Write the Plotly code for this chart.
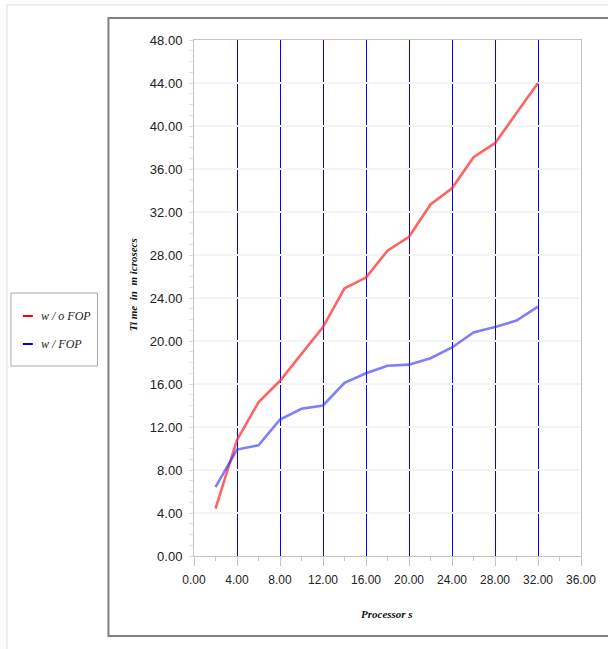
import plotly.graph_objects as go

# ---- data ----
processors = [2, 4, 6, 8, 10, 12, 14, 16, 18, 20, 22, 24, 26, 28, 30, 32]
wo_fop = [4.4, 10.8, 14.3, 16.3, 18.8, 21.3, 24.9, 25.9, 28.4, 29.7, 32.7, 34.2, 37.1, 38.4, 41.2, 44.0]
w_fop = [6.4, 9.9, 10.3, 12.7, 13.7, 14.0, 16.1, 17.0, 17.7, 17.8, 18.4, 19.4, 20.8, 21.3, 21.9, 23.2]
series_names = ["w / o FOP", "w / FOP"]
line_colors = ["rgba(255,40,40,0.72)", "rgba(40,40,255,0.6)"]
legend_colors = ["#ff0000", "#0000ff"]
x_title = "Processor s"
y_title = "Ti me\u00a0\u00a0in\u00a0\u00a0m icrosecs"

W, H = 608, 649
L, R, T, B = 194, 583, 40, 556


def px(x):
    return (x - L) / (R - L)


def py(y):
    return (B - y) / (B - T)


fig = go.Figure()
for name, ys, col in zip(series_names, [wo_fop, w_fop], line_colors):
    fig.add_trace(go.Scatter(x=processors, y=ys, mode="lines", name=name,
                             line=dict(color=col, width=2.6), showlegend=False))

tickfont = dict(family="Liberation Sans, Arial, sans-serif", size=12, color="#222")
titlefont = dict(family="Liberation Serif, Times New Roman, serif", size=11, color="#111",
                 weight="bold", style="italic")

fig.update_xaxes(range=[0, 36], dtick=4, tick0=0, tickformat=".2f",
                 showgrid=True, gridcolor="#0000ff", gridwidth=1, zeroline=False,
                 showline=True, linecolor="#c4c4c4", linewidth=1, mirror=True,
                 ticks="outside", ticklen=9, tickcolor="#c4c4c4", tickfont=tickfont,
                 ticklabelstandoff=4,
                 minor=dict(dtick=2, ticks="outside", ticklen=4, tickcolor="#c4c4c4", showgrid=False))
fig.update_yaxes(range=[0, 48], dtick=4, tick0=0, tickformat=".2f",
                 showgrid=True, gridcolor="#f4f4fb", gridwidth=2, zeroline=False,
                 showline=True, linecolor="#c4c4c4", linewidth=1, mirror=True,
                 ticks="outside", ticklen=4, tickcolor="#dcdcdc", tickfont=dict(tickfont, size=13),
                 ticklabelstandoff=4,
                 minor=dict(dtick=1, ticks="outside", ticklen=4, tickcolor="#e2e2e2", showgrid=False))

shapes = [
    # outer chart frame
    dict(type="rect", xref="paper", yref="paper", x0=px(108), x1=px(620), y0=py(636), y1=py(18),
         line=dict(color="#7f7f7f", width=2)),
    # faint page lines
    dict(type="line", xref="paper", yref="paper", x0=px(6), x1=px(620), y0=py(5), y1=py(5),
         line=dict(color="#dddddd", width=1)),
    dict(type="line", xref="paper", yref="paper", x0=px(6), x1=px(6), y0=py(5), y1=py(660),
         line=dict(color="#dddddd", width=1)),
    # legend box
    dict(type="rect", xref="paper", yref="paper", x0=px(10), x1=px(97), y0=py(366), y1=py(293),
         line=dict(color="#a8a8a8", width=1)),
]
annotations = [
    dict(text=x_title, xref="paper", yref="paper", x=px(388), y=py(614), showarrow=False,
         font=titlefont, xanchor="center", yanchor="middle"),
    dict(text=y_title, xref="paper", yref="paper", x=px(133), y=py(285), showarrow=False,
         font=titlefont, textangle=-90, xanchor="center", yanchor="middle"),
]
for i, (name, col) in enumerate(zip(series_names, legend_colors)):
    yy = 316 + i * 28
    shapes.append(dict(type="line", xref="paper", yref="paper", x0=px(22), x1=px(32),
                       y0=py(yy), y1=py(yy), line=dict(color=col, width=2)))
    annotations.append(dict(text=name, xref="paper", yref="paper", x=px(38), y=py(yy),
                            showarrow=False, xanchor="left", yanchor="middle",
                            font=dict(family="Liberation Serif, Times New Roman, serif", size=12,
                                      color="#222", style="italic")))

fig.update_layout(width=W, height=H, margin=dict(l=L, r=W - R, t=T, b=H - B),
                  paper_bgcolor="white", plot_bgcolor="white", showlegend=False,
                  shapes=shapes, annotations=annotations)

fig.write_html("out.html", config={"displayModeBar": False},
               post_script="document.body.style.margin='0';document.body.style.overflow='hidden';")
